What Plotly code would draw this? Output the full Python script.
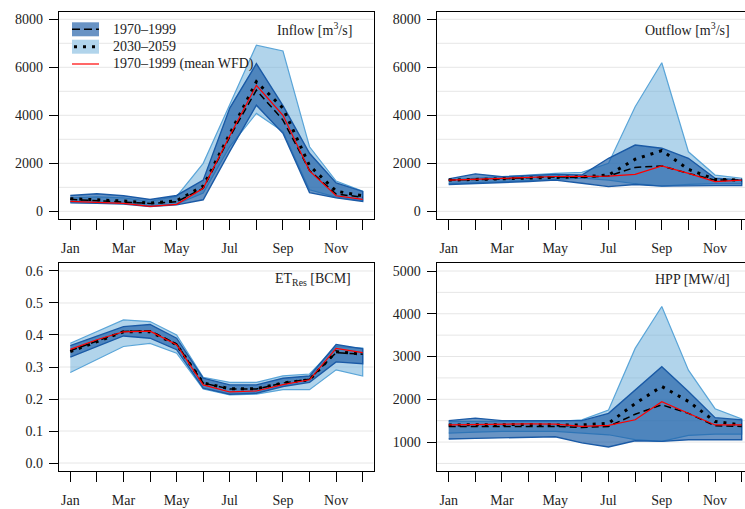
import plotly.graph_objects as go

# ---------------- data ----------------
months = ["Jan", "Feb", "Mar", "Apr", "May", "Jun", "Jul", "Aug", "Sep", "Oct", "Nov", "Dec"]
month_num = [1, 2, 3, 4, 5, 6, 7, 8, 9, 10, 11, 12]
label_months = months[::2]
label_num = month_num[::2]

# Inflow [m3/s]
inflow_hist_upper = [660, 730, 650, 490, 660, 1300, 4300, 6150, 4400, 2420, 1180, 830]
inflow_hist_lower = [350, 330, 300, 200, 270, 480, 2500, 4420, 3250, 780, 560, 410]
inflow_fut_upper = [560, 600, 560, 420, 620, 2000, 4450, 6920, 6680, 2690, 1260, 840]
inflow_fut_lower = [400, 380, 340, 240, 300, 760, 2700, 4080, 3320, 900, 590, 450]
inflow_hist_mean = [500, 440, 400, 330, 400, 960, 3100, 5050, 3800, 1700, 720, 590]
inflow_fut_mean = [527, 470, 430, 340, 440, 1054, 3250, 5400, 4300, 1900, 840, 650]
inflow_wfd = [416, 370, 330, 210, 290, 960, 3150, 5250, 4000, 1680, 650, 500]

# Outflow [m3/s]
out_hist_upper = [1350, 1560, 1440, 1490, 1540, 1510, 2210, 2760, 2630, 2210, 1380, 1310]
out_hist_lower = [1120, 1170, 1190, 1240, 1300, 1170, 1030, 1120, 1050, 1070, 1070, 1070]
out_fut_upper = [1310, 1380, 1420, 1510, 1580, 1620, 2000, 4360, 6190, 2480, 1510, 1380]
out_fut_lower = [1150, 1200, 1230, 1280, 1330, 1380, 1300, 1150, 1050, 1120, 1150, 1150]
out_hist_mean = [1300, 1320, 1350, 1400, 1430, 1420, 1470, 1830, 1890, 1580, 1300, 1300]
out_fut_mean = [1300, 1330, 1370, 1410, 1440, 1440, 1510, 2170, 2530, 1750, 1330, 1300]
out_wfd = [1300, 1340, 1380, 1420, 1450, 1460, 1470, 1540, 1890, 1580, 1240, 1300]

# ET_Res [BCM]
et_hist_upper = [0.367, 0.397, 0.426, 0.433, 0.390, 0.265, 0.244, 0.244, 0.265, 0.272, 0.370, 0.357]
et_hist_lower = [0.331, 0.364, 0.397, 0.390, 0.354, 0.234, 0.215, 0.218, 0.239, 0.252, 0.316, 0.310]
et_fut_upper = [0.374, 0.411, 0.447, 0.442, 0.400, 0.268, 0.252, 0.252, 0.272, 0.278, 0.364, 0.359]
et_fut_lower = [0.283, 0.324, 0.364, 0.374, 0.343, 0.231, 0.213, 0.215, 0.229, 0.229, 0.291, 0.272]
et_hist_mean = [0.351, 0.380, 0.411, 0.413, 0.372, 0.250, 0.231, 0.231, 0.250, 0.262, 0.345, 0.340]
et_fut_mean = [0.348, 0.380, 0.410, 0.410, 0.370, 0.250, 0.232, 0.232, 0.250, 0.260, 0.348, 0.340]
et_wfd = [0.355, 0.385, 0.410, 0.412, 0.370, 0.244, 0.222, 0.225, 0.245, 0.260, 0.358, 0.345]

# HPP [MW/d]
hpp_hist_upper = [1500, 1560, 1500, 1500, 1500, 1500, 1670, 2220, 2760, 2180, 1570, 1520]
hpp_hist_lower = [1070, 1085, 1110, 1115, 1125, 980, 885, 1030, 1015, 1055, 1055, 1055]
hpp_fut_upper = [1480, 1480, 1480, 1480, 1480, 1520, 1750, 3190, 4170, 2680, 1780, 1540]
hpp_fut_lower = [1210, 1230, 1250, 1250, 1250, 1210, 1170, 1055, 1015, 1155, 1185, 1185]
hpp_hist_mean = [1365, 1365, 1365, 1365, 1365, 1340, 1365, 1650, 1870, 1670, 1380, 1365]
hpp_fut_mean = [1400, 1405, 1410, 1410, 1400, 1400, 1440, 1900, 2300, 1950, 1480, 1400]
hpp_wfd = [1400, 1410, 1420, 1425, 1420, 1365, 1390, 1520, 1945, 1675, 1400, 1400]

panel_titles = ["Inflow [m<sup>3</sup>/s]", "Outflow [m<sup>3</sup>/s]",
                "ET<sub>Res</sub> [BCM]", "HPP [MW/d]"]
legend_labels = ["1970\u20131999", "2030\u20132059", "1970\u20131999 (mean WFD)"]

flow_ticks = [0, 2000, 4000, 6000, 8000]
flow_grid = [0, 1000, 2000, 3000, 4000, 5000, 6000, 7000, 8000]
et_ticks = [0.0, 0.1, 0.2, 0.3, 0.4, 0.5, 0.6]
et_text = ["0.0", "0.1", "0.2", "0.3", "0.4", "0.5", "0.6"]
hpp_ticks = [1000, 2000, 3000, 4000, 5000]
hpp_grid = [500, 1000, 1500, 2000, 2500, 3000, 3500, 4000, 4500, 5000]

# ---------------- style ----------------
W, H = 745, 509
FONT = "Liberation Serif, Times New Roman, serif"
LIGHT_FILL = "rgba(100,170,215,0.5)"
LIGHT_EDGE = "#5aa5d8"
DARK_FILL = "rgba(25,90,165,0.65)"
DARK_EDGE = "#1a5aa6"
GRID = "#e6e6e6"

panels = [
    dict(hu=inflow_hist_upper, hl=inflow_hist_lower, fu=inflow_fut_upper, fl=inflow_fut_lower,
         hm=inflow_hist_mean, fm=inflow_fut_mean, w=inflow_wfd),
    dict(hu=out_hist_upper, hl=out_hist_lower, fu=out_fut_upper, fl=out_fut_lower,
         hm=out_hist_mean, fm=out_fut_mean, w=out_wfd),
    dict(hu=et_hist_upper, hl=et_hist_lower, fu=et_fut_upper, fl=et_fut_lower,
         hm=et_hist_mean, fm=et_fut_mean, w=et_wfd),
    dict(hu=hpp_hist_upper, hl=hpp_hist_lower, fu=hpp_fut_upper, fl=hpp_fut_lower,
         hm=hpp_hist_mean, fm=hpp_fut_mean, w=hpp_wfd),
]

fig = go.Figure()
for i, p in enumerate(panels):
    xa = "x" if i == 0 else f"x{i+1}"
    ya = "y" if i == 0 else f"y{i+1}"
    poly_x = month_num + month_num[::-1]
    fig.add_trace(go.Scatter(x=poly_x, y=p["fu"] + p["fl"][::-1], fill="toself",
                             fillcolor=LIGHT_FILL, line=dict(color=LIGHT_EDGE, width=1.2),
                             mode="lines", xaxis=xa, yaxis=ya, showlegend=False, hoverinfo="skip"))
    fig.add_trace(go.Scatter(x=poly_x, y=p["hu"] + p["hl"][::-1], fill="toself",
                             fillcolor=DARK_FILL, line=dict(color=DARK_EDGE, width=1.4),
                             mode="lines", xaxis=xa, yaxis=ya, showlegend=False, hoverinfo="skip"))
    fig.add_trace(go.Scatter(x=month_num, y=p["hm"], mode="lines",
                             line=dict(color="black", width=1.5, dash="7px,4px"),
                             xaxis=xa, yaxis=ya, showlegend=False))
    fig.add_trace(go.Scatter(x=month_num, y=p["fm"], mode="lines",
                             line=dict(color="black", width=3, dash="3px,6px"),
                             xaxis=xa, yaxis=ya, showlegend=False))
    fig.add_trace(go.Scatter(x=month_num, y=p["w"], mode="lines",
                             line=dict(color="#ff0000", width=1.2),
                             xaxis=xa, yaxis=ya, showlegend=False))

# ---------------- axes ----------------
xdom_l = [59 / W, 373.5 / W]
xdom_r = [436.7 / W, 1.0]
ydom_t = [1 - 219 / H, 1 - 12 / H]
ydom_b = [1 - 470.7 / H, 1 - 263.3 / H]

tickfont = dict(family=FONT, size=14, color="#222")

def xaxis(dom, rng, anchor, mirror):
    return dict(domain=dom, range=rng, anchor=anchor, tickmode="array",
                tickvals=label_num, ticktext=label_months, ticks="outside", ticklen=10,
                tickwidth=1, tickcolor="black", showline=True, linecolor="black",
                linewidth=1.2, mirror=mirror, showgrid=False, zeroline=False,
                tickfont=tickfont, ticklabelstandoff=6,
                minor=dict(tickmode="array", tickvals=month_num, ticks="outside", ticklen=10,
                           tickwidth=1, tickcolor="black", showgrid=False))

def yaxis(dom, rng, anchor, tickvals, ticktext, mirror):
    return dict(domain=dom, range=rng, anchor=anchor, tickmode="array",
                tickvals=tickvals, ticktext=ticktext, ticks="outside", ticklen=9,
                tickwidth=1, tickcolor="black", showline=True, linecolor="black",
                linewidth=1.2, mirror=mirror, showgrid=False, zeroline=False,
                tickfont=tickfont, ticklabelstandoff=3)

fig.update_layout(
    width=W, height=H, margin=dict(l=0, r=0, t=0, b=0),
    plot_bgcolor="white", paper_bgcolor="white", showlegend=False,
    xaxis=xaxis(xdom_l, [0.575, 12.406], "y", True),
    yaxis=yaxis(ydom_t, [-320, 8304], "x", flow_ticks, [str(v) for v in flow_ticks], True),
    xaxis2=xaxis(xdom_r, [0.549, 12.124], "y2", True),
    yaxis2=yaxis(ydom_t, [-320, 8304], "x2", flow_ticks, [str(v) for v in flow_ticks], False),
    xaxis3=xaxis(xdom_l, [0.575, 12.406], "y3", True),
    yaxis3=yaxis(ydom_b, [-0.024, 0.624], "x3", et_ticks, et_text, True),
    xaxis4=xaxis(xdom_r, [0.549, 12.124], "y4", True),
    yaxis4=yaxis(ydom_b, [330, 5180], "x4", hpp_ticks, [str(v) for v in hpp_ticks], False),
)

shapes = []
for (xa, ya, vals) in [("x", "y", flow_grid), ("x2", "y2", flow_grid),
                       ("x3", "y3", et_ticks), ("x4", "y4", hpp_grid)]:
    for v in vals:
        shapes.append(dict(type="line", xref=f"{xa} domain", yref=ya, x0=0, x1=1, y0=v, y1=v,
                           line=dict(color=GRID, width=1), layer="below"))

def px(x):
    return x / W

def py(y):
    return 1 - y / H

rows = [29.3, 46.7, 64.0]
shapes.append(dict(type="rect", xref="paper", yref="paper", x0=px(72), x1=px(99),
                   y0=py(rows[0] + 7), y1=py(rows[0] - 7), fillcolor="#6993c4", line=dict(width=0)))
shapes.append(dict(type="line", xref="paper", yref="paper", x0=px(72), x1=px(99),
                   y0=py(rows[0]), y1=py(rows[0]), line=dict(color="black", width=1.5, dash="8px,4px")))
shapes.append(dict(type="rect", xref="paper", yref="paper", x0=px(72), x1=px(99),
                   y0=py(rows[1] + 7), y1=py(rows[1] - 7), fillcolor="#b1d4eb", line=dict(width=0)))
shapes.append(dict(type="line", xref="paper", yref="paper", x0=px(74), x1=px(99),
                   y0=py(rows[1]), y1=py(rows[1]), line=dict(color="black", width=3, dash="3px,6px")))
shapes.append(dict(type="line", xref="paper", yref="paper", x0=px(72), x1=px(99),
                   y0=py(rows[2]), y1=py(rows[2]), line=dict(color="#ff0000", width=1.2)))
fig.update_layout(shapes=shapes)

annotations = []
for lab, r in zip(legend_labels, rows):
    annotations.append(dict(text=lab, xref="paper", yref="paper", x=px(111), y=py(r),
                            xanchor="left", yanchor="middle", showarrow=False,
                            font=dict(family=FONT, size=14, color="#222")))
title_pos = [(354, 29), (732.3, 29), (353.3, 279.3), (732.3, 279.3)]
for t, (tx, ty) in zip(panel_titles, title_pos):
    annotations.append(dict(text=t, xref="paper", yref="paper", x=px(tx), y=py(ty),
                            xanchor="right", yanchor="middle", showarrow=False,
                            font=dict(family=FONT, size=14, color="#222")))
fig.update_layout(annotations=annotations)

fig.write_html("out.html", config={"displayModeBar": False},
               post_script="document.body.style.margin='0';document.body.style.overflow='hidden';")
